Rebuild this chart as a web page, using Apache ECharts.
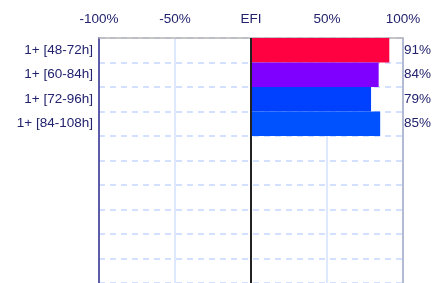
<!DOCTYPE html>
<html><head><meta charset="utf-8">
<script src="https://cdn.jsdelivr.net/npm/echarts@6/dist/echarts.min.js"></script>
<style>html,body{margin:0;padding:0;background:#fff}#c{width:434px;height:283px}</style>
</head><body><div id="c"></div>
<script>
var rowLabels = ['1+ [48-72h]', '1+ [60-84h]', '1+ [72-96h]', '1+ [84-108h]'];
var efiValues = [91, 84, 79, 85];
var valueLabels = ['91%', '84%', '79%', '85%'];
var emptyRows = 6;
var barColors = ['#ff0040', '#8000ff', '#0040ff', '#0052ff'];

var cats = rowLabels.slice();
var rightCats = valueLabels.slice();
for (var i = 0; i < emptyRows; i++) { cats.push('_e' + i); rightCats.push('_e' + i); }
var hide = function (v) { return v.indexOf('_e') === 0 ? '' : v; };

var txt = '#22226e';
var font = 'Liberation Sans';
var chart = echarts.init(document.getElementById('c'));
chart.setOption({
  animation: false,
  grid: { left: 99, right: 30, top: 38, height: 246, show: false },
  xAxis: {
    type: 'value', position: 'top', min: -100, max: 100, interval: 50,
    axisLine: { show: true, lineStyle: { color: '#b4b4b4', width: 1.5 } },
    axisTick: { show: false },
    axisLabel: { margin: 12, color: txt, fontFamily: font, fontSize: 13.5,
      formatter: function (v) { return v === 0 ? 'EFI' : v + '%'; } },
    splitLine: { show: true, lineStyle: { color: '#d3e0ff', width: 1.5 } }
  },
  yAxis: [{
    type: 'category', inverse: true, data: cats,
    axisLine: { show: true, onZero: false, lineStyle: { color: '#5c5ca8', width: 2 } },
    axisTick: { show: false },
    axisLabel: { margin: 6, color: txt, fontFamily: font, fontSize: 13.5, formatter: hide },
    splitLine: { show: true, lineStyle: { color: '#c6d6ff', width: 1.5, type: [6, 5] } }
  }, {
    type: 'category', inverse: true, position: 'right', data: rightCats,
    axisLine: { show: true, onZero: false, lineStyle: { color: '#a4abc4', width: 1.5 } },
    axisTick: { show: false },
    axisLabel: { margin: 1, color: txt, fontFamily: font, fontSize: 13.5, formatter: hide },
    splitLine: { show: false }
  }],
  series: [{
    type: 'bar', yAxisIndex: 0, barWidth: '100%', barCategoryGap: 0,
    data: efiValues.map(function (v, i) { return { value: v, itemStyle: { color: barColors[i] } }; }),
    markLine: {
      silent: true, symbol: 'none', label: { show: false },
      lineStyle: { color: '#222', width: 2, type: 'solid' },
      data: [{ xAxis: 0 }]
    }
  }]
});
</script></body></html>
